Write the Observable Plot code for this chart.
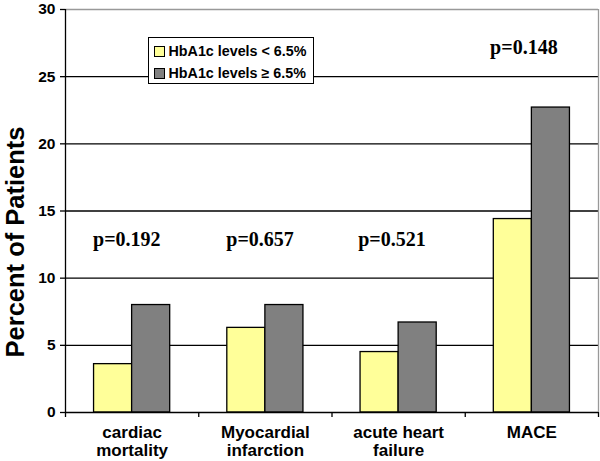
<!DOCTYPE html>
<html>
<head>
<meta charset="utf-8">
<script src="https://cdn.jsdelivr.net/npm/d3@7"></script>
<script src="https://cdn.jsdelivr.net/npm/@observablehq/plot@0.6"></script>
<style>
  html, body { margin: 0; padding: 0; background: #fff; }
  #wrap { position: relative; width: 600px; height: 461px; }
  #legend {
    position: absolute; left: 148px; top: 37px; width: 166px; height: 47px;
    box-sizing: border-box; border: 1.5px solid #000; background: #fff;
    padding: 5px 0 0 4.5px;
    font-family: "Liberation Sans", Arial, sans-serif; font-weight: bold; font-size: 14.3px; color: #000;
    white-space: nowrap;
  }
  #legend .row { display: flex; align-items: center; height: 16px; margin-bottom: 6px; }
  #legend .sw { width: 9px; height: 9px; border: 1px solid #000; margin-right: 4px; flex: none; }
</style>
</head>
<body>
<div id="wrap"><div id="chart"></div><div id="legend"></div></div>
<script>
const categories = ["cardiac\nmortality", "Myocardial\ninfarction", "acute heart\nfailure", "MACE"];
const groups = ["HbA1c levels < 6.5%", "HbA1c levels \u2265 6.5%"];
const groupColors = ["#FFFF99", "#808080"];
const lowValues = [3.6, 6.3, 4.5, 14.4];
const highValues = [8.0, 8.0, 6.7, 22.7];
const pLabels = ["p=0.192", "p=0.657", "p=0.521", "p=0.148"];
const pX = [0.46, 1.46, 2.45, 3.44];
const pY = [12.9, 12.9, 12.9, 27.2];
const yTicks = [0, 5, 10, 15, 20, 25, 30];

// dodge the two groups inside each category slot
const barW = 0.2857;
const bars = [];
categories.forEach((c, i) => {
  [lowValues[i], highValues[i]].forEach((v, g) => {
    const x1 = i + 0.5 + (g - 1) * barW;
    bars.push({category: c, group: groups[g], value: v, x1, x2: x1 + barW});
  });
});

const chart = Plot.plot({
  width: 600,
  height: 461,
  marginLeft: 65,
  marginRight: 2,
  marginTop: 9,
  marginBottom: 49,
  x: {domain: [0, categories.length], axis: null},
  y: {domain: [0, 30], axis: null},
  color: {domain: groups, range: groupColors},
  style: {fontFamily: "'Liberation Sans', Arial, sans-serif", background: "#fff", color: "#000"},
  marks: [
    Plot.ruleY(yTicks.filter(v => v > 0 && v < 30), {stroke: "#000", strokeWidth: 1.3}),
    Plot.ruleY([30], {stroke: "#999", strokeWidth: 1.3}),
    Plot.ruleX([categories.length], {stroke: "#999", strokeWidth: 1.3}),
    Plot.rectY(bars, {x1: "x1", x2: "x2", y1: 0, y2: "value", fill: "group", stroke: "#000", strokeWidth: 1.3}),
    Plot.ruleY([0], {stroke: "#000", strokeWidth: 1.3}),
    Plot.ruleX([0], {stroke: "#000", strokeWidth: 1.3}),
    Plot.axisY({ticks: yTicks, tickSize: 5, tickPadding: 5, fontSize: 15.5, fontWeight: "bold", label: null, strokeWidth: 1.3}),
    Plot.axisX({ticks: d3.range(categories.length + 1), tickSize: 5, tickFormat: () => "", label: null, strokeWidth: 1.3}),
    Plot.axisX({ticks: categories.map((c, i) => i + 0.5), tickSize: 0, tickPadding: 12,
      tickFormat: d => categories[Math.floor(d)], fontSize: 17, fontWeight: "bold", lineHeight: 1.08, label: null}),
    Plot.text(pLabels, {x: (d, i) => pX[i], y: (d, i) => pY[i], text: d => d,
      fontFamily: "'Liberation Serif', 'Times New Roman', serif", fontSize: 20, fontWeight: "bold", fill: "#000"}),
    Plot.text(["Percent of Patients"], {frameAnchor: "left", textAnchor: "middle", rotate: -90, dx: -50, dy: 31, text: d => d,
      fontSize: 25.5, fontWeight: "bold", fill: "#000"})
  ]
});
document.getElementById("chart").appendChild(chart);

const legend = d3.select("#legend");
groups.forEach((g, i) => {
  const row = legend.append("div").attr("class", "row");
  row.append("div").attr("class", "sw").style("background", groupColors[i]);
  row.append("span").text(g);
});
</script>
</body>
</html>
